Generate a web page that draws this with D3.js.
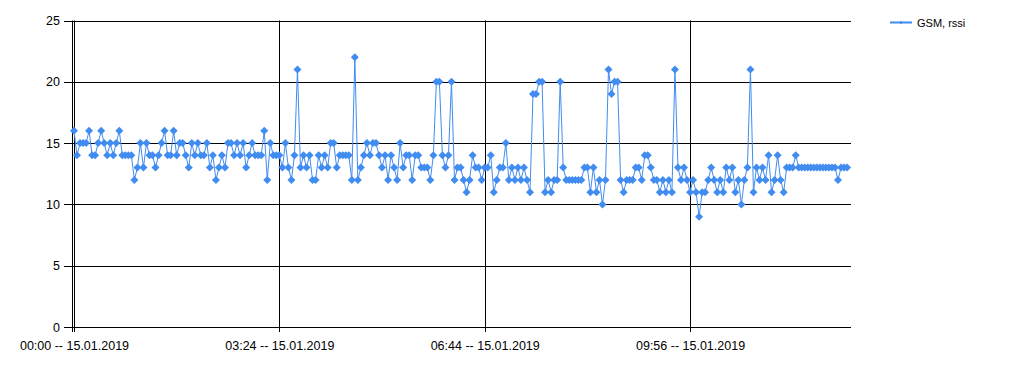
<!DOCTYPE html>
<html>
<head>
<meta charset="utf-8">
<script src="https://cdn.jsdelivr.net/npm/d3@7"></script>
<style>
  html, body { margin: 0; padding: 0; background: #fff; }
  svg { display: block; }
  text { font-family: "Liberation Sans", Arial, sans-serif; fill: #000; }
</style>
</head>
<body>
<svg id="chart" width="1011" height="369"></svg>
<script>
// ---- data ----
const seriesName = "GSM, rssi";
const rssi = [
  16,14,15,15,15,16,14,14,15,16,
  15,14,15,14,15,16,14,14,14,14,
  12,13,15,13,15,14,14,13,14,15,
  16,14,14,16,14,15,15,14,13,15,
  14,15,14,14,15,13,14,12,13,14,
  13,15,15,14,15,14,15,13,14,15,
  14,14,14,16,12,15,14,14,14,13,
  15,13,12,14,21,13,14,13,14,12,
  12,14,13,14,13,15,15,13,14,14,
  14,14,12,22,12,13,14,15,14,15,
  15,14,13,14,12,14,13,12,15,13,
  14,14,12,14,14,13,13,13,12,14,
  20,20,14,13,14,20,12,13,13,12,
  11,12,14,13,13,12,13,13,14,11,
  12,13,13,15,12,13,12,13,12,13,
  12,11,19,19,20,20,11,12,11,12,
  12,20,13,12,12,12,12,12,12,13,
  13,11,13,11,12,10,12,21,19,20,
  20,12,11,12,12,12,13,13,12,14,
  14,13,12,12,11,12,11,12,11,21,
  13,12,13,12,11,12,11,9,11,11,
  12,13,12,11,12,11,13,12,13,11,
  12,10,12,13,21,11,13,12,13,12,
  14,11,12,14,12,11,13,13,13,14,
  13,13,13,13,13,13,13,13,13,13,
  13,13,13,12,13,13,13
];
const xTickIndex = [0, 68, 136, 204];
const xTickLabels = ["00:00 -- 15.01.2019", "03:24 -- 15.01.2019", "06:44 -- 15.01.2019", "09:56 -- 15.01.2019"];
const yTicks = [0, 5, 10, 15, 20, 25];

// ---- layout ----
const svg = d3.select("#chart");
const plot = { left: 72, right: 851, top: 20.5, bottom: 327 };
const color = "#418CF0";

const x = d3.scaleLinear().domain([-0.66, rssi.length + 0.3]).range([plot.left, plot.right]);
const y = d3.scaleLinear().domain([0, 25]).range([plot.bottom, plot.top]);

const crisp = v => Math.round(v) + 0.5;

// horizontal gridlines + outer ticks
const gH = svg.append("g");
yTicks.forEach(t => {
  gH.append("line")
    .attr("x1", plot.left - 8).attr("x2", plot.right)
    .attr("y1", crisp(y(t))).attr("y2", crisp(y(t)))
    .attr("stroke", "#000").attr("stroke-width", 1);
});

// vertical gridlines + ticks
const gV = svg.append("g");
xTickIndex.forEach(i => {
  gV.append("line")
    .attr("x1", crisp(x(i))).attr("x2", crisp(x(i)))
    .attr("y1", plot.top).attr("y2", plot.bottom + 5)
    .attr("stroke", "#000").attr("stroke-width", 1);
});

// axis line
svg.append("line")
  .attr("x1", crisp(plot.left)).attr("x2", crisp(plot.left))
  .attr("y1", plot.top).attr("y2", plot.bottom + 5)
  .attr("stroke", "#000");

// y axis labels via d3 axis
const yAxis = d3.axisLeft(y).tickValues(yTicks).tickSize(0).tickPadding(12).tickFormat(d3.format("d"));
const gy = svg.append("g").attr("transform", `translate(${plot.left},0)`).call(yAxis);
gy.select(".domain").remove();
gy.selectAll("text").attr("font-size", "12.5px").attr("font-family", "Liberation Sans, Arial, sans-serif").attr("fill", "#000");

// x axis labels via d3 axis
const xAxis = d3.axisBottom(x).tickValues(xTickIndex).tickSize(0).tickPadding(14)
  .tickFormat((d, k) => xTickLabels[k]);
const gx = svg.append("g").attr("transform", `translate(0,${plot.bottom})`).call(xAxis);
gx.select(".domain").remove();
gx.selectAll("text").attr("font-size", "12.5px").attr("font-family", "Liberation Sans, Arial, sans-serif").attr("fill", "#000");

// series line
const line = d3.line().x((d, i) => x(i)).y(d => y(d));
svg.append("path")
  .datum(rssi)
  .attr("d", line)
  .attr("fill", "none")
  .attr("stroke", color)
  .attr("stroke-width", 1);

// diamond markers
const r = 4;
const diamond = `M0,${-r}L${r},0L0,${r}L${-r},0Z`;
svg.append("g").selectAll("path")
  .data(rssi)
  .join("path")
  .attr("d", diamond)
  .attr("transform", (d, i) => `translate(${x(i)},${y(d)})`)
  .attr("fill", color);

// legend
const lg = svg.append("g").attr("transform", "translate(890,22.5)");
lg.append("line").attr("x1", 0).attr("x2", 22).attr("y1", 0).attr("y2", 0)
  .attr("stroke", color).attr("stroke-width", 2);
lg.append("path").attr("d", "M0,-1.8L1.8,0L0,1.8L-1.8,0Z").attr("transform", "translate(11,0)").attr("fill", color);
lg.append("text").attr("x", 27).attr("y", 4).attr("font-size", "11px").text(seriesName);
</script>
</body>
</html>
